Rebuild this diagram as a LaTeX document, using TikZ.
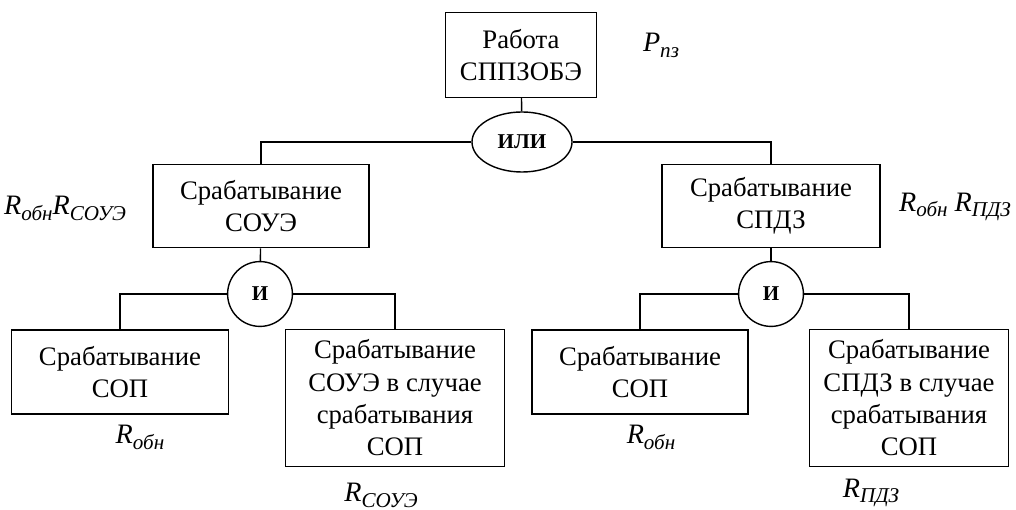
\documentclass[tikz,border=0pt]{standalone}
\usepackage{fontspec}
\setmainfont{Liberation Serif}
\usetikzlibrary{shapes.geometric}
\tikzset{
  every node/.style={font=\fontsize{19}{23}\selectfont},
  event/.style={draw, line width=1pt, align=center, inner sep=0pt},
  gate/.style={draw, line width=1pt, inner sep=0pt, font=\fontsize{15}{15}\selectfont\bfseries},
  prob/.style={inner sep=0pt, font=\fontsize{20}{20}\selectfont\itshape}
}
% italic R with a lowered subscript
\newcommand{\rind}[1]{R\raisebox{-0.45ex}{\fontsize{15}{15}\selectfont\itshape #1}}

\begin{document}
\begin{tikzpicture}[x=0.025cm, y=-0.025cm, line width=1pt]
  % Bounding box fixe
  \path[use as bounding box] (0,0) rectangle (1016,510);

  % Top event.
  \node[event, minimum width=3.78cm, minimum height=2.12cm] (work) at (521,55)
    {Работа\\СППЗОБЭ};
  \node[prob] (pwork) at (661,45) {P\raisebox{-0.45ex}{\fontsize{15}{15}\selectfont\itshape пз}};

  % OR gate.
  \node[gate, ellipse, minimum width=2.5cm, minimum height=1.5cm] (ili) at (522,142) {ИЛИ};

  % Second level.
  \node[event, minimum width=5.4cm, minimum height=2.08cm] (soue) at (261,206)
    {Срабатывание\\СОУЭ};
  \node[event, minimum width=5.45cm, minimum height=2.08cm] (spdz) at (771,206)
    {Срабатывание\\СПДЗ};
  \node[prob] (psoue) at (65,208) {\rind{обн}\rind{СОУЭ}};
  \node[prob] (pspdz) at (955,207) {\rind{обн} \rind{ПДЗ}};

  % AND gates.
  \node[gate, circle, minimum size=1.62cm] (andl) at (260,294) {И};
  \node[gate, circle, minimum size=1.62cm] (andr) at (771,294) {И};

  % Bottom events.
  \node[event, minimum width=5.42cm, minimum height=2.1cm] (sopl) at (120,372)
    {Срабатывание\\СОП};
  \node[event, minimum width=5.48cm, minimum height=3.43cm] (soueop) at (395,398)
    {Срабатывание\\СОУЭ в случае\\срабатывания\\СОП};
  \node[event, minimum width=5.4cm, minimum height=2.1cm] (sopr) at (640,372)
    {Срабатывание\\СОП};
  \node[event, minimum width=4.98cm, minimum height=3.43cm] (spdzop) at (909,398)
    {Срабатывание\\СПДЗ в случае\\срабатывания\\СОП};
  \node[prob] (psopl) at (140,437) {\rind{обн}};
  \node[prob] (psoueop) at (381,495) {\rind{СОУЭ}};
  \node[prob] (psopr) at (651,437) {\rind{обн}};
  \node[prob] (pspdzop) at (871,493) {\rind{ПДЗ}};

  % Connections.
  \draw (work) -- (ili);
  \draw (ili.west) -| (soue);
  \draw (ili.east) -| (spdz);
  \draw (soue) -- (andl);
  \draw (spdz) -- (andr);
  \draw (andl.west) -| (sopl);
  \draw (andl.east) -| (soueop);
  \draw (andr.west) -| (sopr);
  \draw (andr.east) -| (spdzop);
\end{tikzpicture}
\end{document}
